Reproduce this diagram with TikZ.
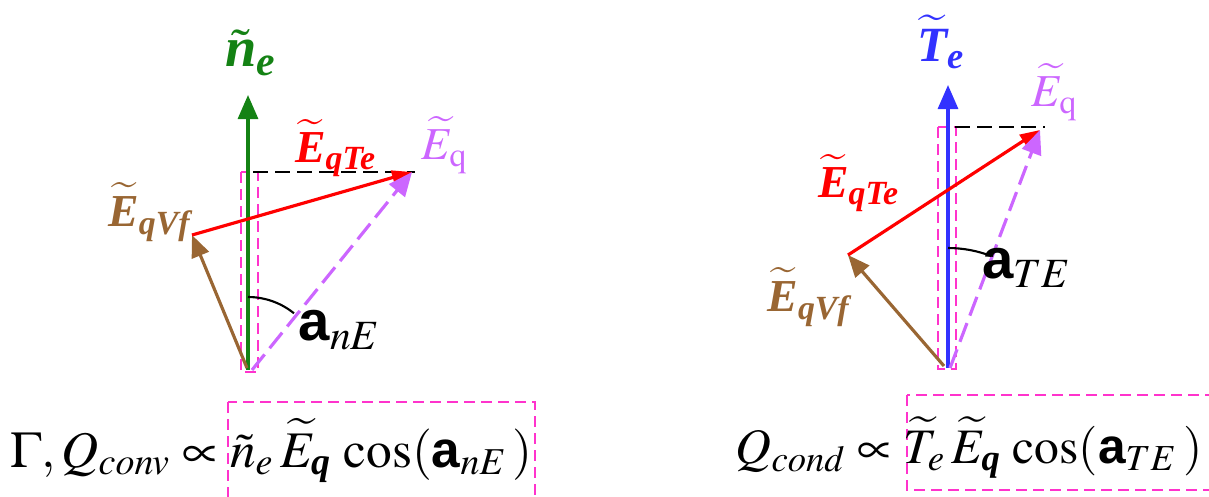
\documentclass[tikz,border=0pt]{standalone}
\usepackage{amsmath}
\usepackage{mathptmx}
\usepackage{fontspec}
\setmainfont{Liberation Serif}
\setsansfont{Liberation Sans}
\usetikzlibrary{arrows.meta}
\definecolor{vecgreen}{RGB}{20,130,20}
\definecolor{vecblue}{RGB}{50,50,255}
\definecolor{vecred}{RGB}{255,0,0}
\definecolor{vecviolet}{RGB}{204,102,255}
\definecolor{vecbrown}{RGB}{153,102,51}
\definecolor{boxpink}{RGB}{255,51,204}
\newcommand{\bi}[1]{\text{\bfseries\itshape #1}}
\newcommand{\anga}{\text{\sffamily\bfseries a}}

\begin{document}
\begin{tikzpicture}[x=0.01cm, y=-0.01cm,
    vec/.style={line width=0.9pt, -{Triangle[length=2.4mm, width=2mm]}},
    thinbox/.style={boxpink, line width=0.45pt, dash pattern=on 1.1mm off 0.6mm},
    lbl/.style={inner sep=0pt, font=\fontsize{13}{15}\selectfont}]
    \useasboundingbox (0,0) rectangle (1209,496);

    % left: density
    \coordinate (nO) at (248,370);
    \coordinate (nTop) at (248,95);
    \coordinate (nVf) at (192,235);
    \coordinate (nEq) at (412,172);
    \draw[thinbox] (241,172) rectangle (258,372);
    \draw[black, line width=0.7pt, dash pattern=on 1.5mm off 0.7mm] (253,172) -- (415,172);
    \draw[vec, vecgreen] (nO) -- (nTop);
    \draw[vec, vecbrown, -{Triangle[length=2.2mm, width=1.8mm]}] (247,368) -- (nVf);
    \draw[vec, vecred, -{Triangle[length=2mm, width=1.4mm]}] (nVf) -- (nEq);
    \draw[vec, vecviolet, dash pattern=on 2mm off 0.8mm] (252,370) -- (nEq);
    \draw[line width=0.6pt] (248,297) arc[start angle=90, end angle=51, radius=0.73cm];
    \node[lbl, vecgreen, font=\fontsize{16}{18}\selectfont] (lblN) at (251,53) {$\tilde{\bi{n}}_{\bi{e}}$};
    \node[lbl, vecred] (lblTeL) at (336,148) {$\widetilde{\bi{E}}_{\bi{qTe}}$};
    \node[lbl, vecviolet] (lblEqL) at (445,145) {$\widetilde{E}_{\mathrm{q}}$};
    \node[lbl, vecbrown] (lblVfL) at (150,212) {$\widetilde{\bi{E}}_{\bi{qVf}}$};
    \node[lbl, font=\fontsize{16}{18}\selectfont] (lblAnE) at (340,330) {$\anga_{nE}$};

    % right: temperature
    \coordinate (tO) at (948,368);
    \coordinate (tTop) at (948,85);
    \coordinate (tVf) at (848,255);
    \coordinate (tEq) at (1040,130);
    \draw[thinbox] (938,127) rectangle (956,369);
    \draw[black, line width=0.7pt, dash pattern=on 1.5mm off 0.7mm] (955,127) -- (1045,127);
    \draw[vec, vecblue] (tO) -- (tTop);
    \draw[vec, vecbrown, -{Triangle[length=2.2mm, width=1.8mm]}] (944,366) -- (tVf);
    \draw[vec, vecred, -{Triangle[length=2mm, width=1.4mm]}] (tVf) -- (tEq);
    \draw[vec, vecviolet, dash pattern=on 2mm off 0.8mm] (950,368) -- (tEq);
    \draw[line width=0.6pt] (948,248) arc[start angle=90, end angle=69, radius=1.2cm];
    \node[lbl, vecblue, font=\fontsize{14}{16}\selectfont] (lblT) at (941,42) {$\widetilde{\bi{T}}_{\bi{e}}$};
    \node[lbl, vecviolet] (lblEqR) at (1055,92) {$\widetilde{E}_{\mathrm{q}}$};
    \node[lbl, vecred] (lblTeR) at (859,183) {$\widetilde{\bi{E}}_{\bi{qTe}}$};
    \node[lbl, vecbrown] (lblVfR) at (809,297) {$\widetilde{\bi{E}}_{\bi{qVf}}$};
    \node[lbl, font=\fontsize{16}{18}\selectfont] (lblATE) at (1027,268) {$\anga_{TE}$};

    % formulas
    \draw[thinbox, line width=0.6pt] (228,402) rectangle (535,499);
    \draw[thinbox, line width=0.6pt] (907,395) rectangle (1213,490);
    \node[anchor=base west, inner sep=0pt, font=\fontsize{14.6}{17}\selectfont] (fConv) at (10,467)
        {$\Gamma,Q_{conv}\propto\tilde{n}_e\,\widetilde{E}_{\bi{q}}\,\cos(\anga_{nE}\,)$};
    \node[anchor=base west, inner sep=0pt, font=\fontsize{14.1}{17}\selectfont] (fCond) at (735,463)
        {$Q_{cond}\propto\widetilde{T}_e\,\widetilde{E}_{\bi{q}}\,\cos(\anga_{TE}\,)$};
\end{tikzpicture}
\end{document}
